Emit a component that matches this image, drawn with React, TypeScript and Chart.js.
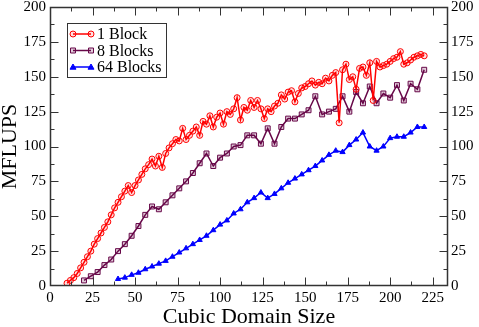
import React, { useEffect, useRef } from "react";
import { Chart, registerables } from "chart.js";

Chart.register(...registerables);

const FONT = "'Liberation Serif', 'Times New Roman', serif";

// ---- data ----
const seriesNames = ["1 Block", "8 Blocks", "64 Blocks"];

const oneBlockX = [
  10, 12, 14, 16, 18, 20, 22, 24, 26, 28, 30, 32, 34, 36, 38, 40, 42, 44, 46, 48,
  50, 52, 54, 56, 58, 60, 62, 64, 66, 68, 70, 72, 74, 76, 78, 80, 82, 84, 86, 88,
  90, 92, 94, 96, 98, 100, 102, 104, 106, 108, 110, 112, 114, 116, 118, 120, 122, 124, 126, 128,
  130, 132, 134, 136, 138, 140, 142, 144, 146, 148, 150, 152, 154, 156, 158, 160, 162, 164, 166, 168,
  170, 172, 174, 176, 178, 180, 182, 184, 186, 188, 190, 192, 194, 196, 198, 200, 202, 204, 206, 208,
  210, 212, 214, 216, 218, 220,
];
const oneBlockY = [
  2, 4, 6, 9, 13, 17, 21, 25, 30, 34, 38, 42, 46, 51, 56, 60, 64, 68, 72, 67,
  72, 76, 80, 84, 87, 91, 86, 93, 85, 95, 99, 102, 105, 104, 113, 105, 108, 111, 114, 108,
  118, 116, 122, 114, 121, 124, 116, 125, 123, 127, 135, 119, 128, 126, 133, 128, 133, 127, 120, 127,
  125, 129, 131, 137, 134, 139, 140, 132, 138, 142, 143, 145, 147, 144, 146, 145, 149, 147, 151, 153,
  117, 155, 159, 148, 150, 141, 156, 157, 151, 160, 133, 161, 157, 158, 159, 161, 163, 164, 168, 159,
  160, 162, 164, 165, 166, 165,
];

const eightBlocksX = [
  20, 24, 28, 32, 36, 40, 44, 48, 52, 56, 60, 64, 68, 72, 76, 80, 84, 88, 92, 96,
  100, 104, 108, 112, 116, 120, 124, 128, 132, 136, 140, 144, 148, 152, 156, 160, 164, 168, 172, 176,
  180, 184, 188, 192, 196, 200, 204, 208, 212, 216, 220,
];
const eightBlocksY = [
  4, 7, 10, 15, 19, 25, 30, 36, 43, 51, 57, 55, 60, 65, 70, 75, 81, 88, 95, 86,
  92, 95, 100, 101, 108, 108, 102, 113, 102, 114, 120, 120, 123, 126, 136, 123, 125, 127, 136, 125,
  139, 131, 143, 131, 138, 135, 144, 133, 145, 141, 155,
];

const sixtyFourBlocksX = [
  40, 44, 48, 52, 56, 60, 64, 68, 72, 76, 80, 84, 88, 92, 96, 100, 104, 108, 112, 116,
  120, 124, 128, 132, 136, 140, 144, 148, 152, 156, 160, 164, 168, 172, 176, 180, 184, 188, 192, 196,
  200, 204, 208, 212, 216, 220,
];
const sixtyFourBlocksY = [
  5, 6, 8, 9.5, 12, 14, 16, 18, 21, 24, 27, 30, 33, 36, 40, 44, 47, 52, 55, 60,
  63, 67, 63, 66, 70, 74, 77, 80, 83, 86, 90, 94, 97, 96, 101, 105, 110, 100, 97, 100,
  106, 107, 107, 110, 114, 114,
];

const X_MIN = 0;
const X_MAX = 234;
const X_STEP = 25;
const Y_MIN = 0;
const Y_MAX = 200;
const Y_STEP = 25;

const RED = "rgb(255,0,0)";
const MAROON = "rgb(103,7,72)";
const BLUE = "rgb(0,0,255)";

function toPoints(xs: number[], ys: number[]) {
  return xs.map((x, i) => ({ x, y: ys[i] }));
}

function drawMarker(ctx: CanvasRenderingContext2D, style: string, x: number, y: number, color: string, fill: string) {
  ctx.save();
  ctx.strokeStyle = color;
  ctx.fillStyle = fill;
  ctx.lineWidth = 1;
  ctx.beginPath();
  if (style === "circle") {
    ctx.arc(x, y, 3, 0, Math.PI * 2);
  } else if (style === "rect") {
    ctx.rect(x - 2.5, y - 2.5, 5, 5);
  } else {
    ctx.moveTo(x, y - 3);
    ctx.lineTo(x + 3, y + 2.2);
    ctx.lineTo(x - 3, y + 2.2);
    ctx.closePath();
  }
  ctx.fill();
  ctx.stroke();
  ctx.restore();
}

const graceAxes = {
  id: "graceAxes",
  afterDatasetsDraw(chart: any) {
    const { ctx, chartArea: a } = chart;
    const xs = chart.scales.x;
    const ys = chart.scales.y;
    const L = Math.round(a.left) + 0.5;
    const R = Math.round(a.right) - 0.5;
    const T = Math.round(a.top) + 0.5;
    const B = Math.round(a.bottom) - 0.5;
    ctx.save();
    ctx.strokeStyle = "#333";
    ctx.lineWidth = 1;
    ctx.beginPath();
    for (let v = X_MIN + X_STEP / 2; v <= X_MAX; v += X_STEP / 2) {
      const px = Math.round(xs.getPixelForValue(v)) + 0.5;
      const len = Math.abs(v % X_STEP) < 1e-6 ? 8 : 4;
      ctx.moveTo(px, B);
      ctx.lineTo(px, B - len);
      ctx.moveTo(px, T);
      ctx.lineTo(px, T + len);
    }
    for (let v = Y_MIN + Y_STEP / 2; v < Y_MAX; v += Y_STEP / 2) {
      const py = Math.round(ys.getPixelForValue(v)) + 0.5;
      const len = Math.abs(v % Y_STEP) < 1e-6 ? 8 : 4;
      ctx.moveTo(L, py);
      ctx.lineTo(L + len, py);
      ctx.moveTo(R, py);
      ctx.lineTo(R - len, py);
    }
    ctx.stroke();
    ctx.lineWidth = 1.5;
    ctx.strokeRect(L, T, R - L, B - T);
    ctx.restore();
  },
};

const graceLegend = {
  id: "graceLegend",
  afterDraw(chart: any) {
    const ctx: CanvasRenderingContext2D = chart.ctx;
    ctx.save();
    ctx.fillStyle = "#fff";
    ctx.strokeStyle = "#333";
    ctx.lineWidth = 1;
    ctx.fillRect(67.5, 23.5, 99, 54);
    ctx.strokeRect(67.5, 23.5, 99, 54);
    chart.data.datasets.forEach((ds: any, i: number) => {
      const y = 34 + i * 16.5;
      ctx.strokeStyle = ds.borderColor;
      ctx.lineWidth = ds.borderWidth;
      ctx.beginPath();
      ctx.moveTo(73, y);
      ctx.lineTo(91, y);
      ctx.stroke();
      drawMarker(ctx, ds.pointStyle, 73, y, ds.borderColor, ds.pointBackgroundColor);
      drawMarker(ctx, ds.pointStyle, 91, y, ds.borderColor, ds.pointBackgroundColor);
      ctx.fillStyle = "#000";
      ctx.font = `16px ${FONT}`;
      ctx.textBaseline = "middle";
      ctx.textAlign = "left";
      ctx.fillText(ds.label, 97, y + 1);
    });
    ctx.restore();
  },
};

export default function App() {
  const ref = useRef<HTMLCanvasElement | null>(null);

  useEffect(() => {
    document.body.style.margin = "0";
    const canvas = ref.current;
    if (!canvas) return;
    const tickFont = { family: FONT, size: 15 };
    const chart = new Chart(canvas, {
      type: "line",
      data: {
        datasets: [
          {
            label: seriesNames[0],
            data: toPoints(oneBlockX, oneBlockY),
            borderColor: RED,
            borderWidth: 1.5,
            pointStyle: "circle",
            pointRadius: 3,
            pointBorderWidth: 1,
            pointBorderColor: RED,
            pointBackgroundColor: "rgba(255,0,0,0.12)",
          },
          {
            label: seriesNames[1],
            data: toPoints(eightBlocksX, eightBlocksY),
            borderColor: MAROON,
            borderWidth: 1.5,
            pointStyle: "rect",
            pointRadius: 3.5,
            pointBorderWidth: 1,
            pointBorderColor: MAROON,
            pointBackgroundColor: "rgba(103,7,72,0.2)",
          },
          {
            label: seriesNames[2],
            data: toPoints(sixtyFourBlocksX, sixtyFourBlocksY),
            borderColor: BLUE,
            borderWidth: 1.5,
            pointStyle: "triangle",
            pointRadius: 3,
            pointBorderWidth: 1,
            pointBorderColor: BLUE,
            pointBackgroundColor: BLUE,
          },
        ] as any,
      },
      options: {
        animation: false,
        responsive: false,
        layout: { padding: { top: 7, left: 0, right: 0, bottom: 0 } },
        plugins: { legend: { display: false }, tooltip: { enabled: false } },
        elements: { line: { tension: 0 } },
        scales: {
          x: {
            type: "linear",
            position: "bottom",
            min: X_MIN,
            max: X_MAX,
            grid: { display: false, drawTicks: false },
            border: { display: false },
            ticks: { stepSize: X_STEP, includeBounds: false, font: tickFont, color: "#000", padding: 3, maxRotation: 0, autoSkip: false },
            title: { display: true, text: "Cubic Domain Size", font: { family: FONT, size: 22, lineHeight: 0.9 }, color: "#000", padding: 0 },
            afterFit(scale: any) {
              scale.height = 41;
              scale.paddingLeft = 0;
              scale.paddingRight = 0;
            },
          },
          y: {
            type: "linear",
            position: "left",
            min: Y_MIN,
            max: Y_MAX,
            grid: { display: false, drawTicks: false },
            border: { display: false },
            ticks: { stepSize: Y_STEP, font: tickFont, color: "#000", padding: 4 },
            title: { display: true, text: "MFLUPS", font: { family: FONT, size: 22, lineHeight: 0.9 }, color: "#000", padding: 0 },
            afterFit(scale: any) {
              scale.width = 50;
              scale.paddingTop = 0;
              scale.paddingBottom = 0;
            },
          },
          y2: {
            type: "linear",
            position: "right",
            min: Y_MIN,
            max: Y_MAX,
            grid: { display: false, drawTicks: false },
            border: { display: false },
            ticks: { stepSize: Y_STEP, font: tickFont, color: "#000", padding: 3 },
            afterFit(scale: any) {
              scale.width = 31;
              scale.paddingTop = 0;
              scale.paddingBottom = 0;
            },
          },
        },
      } as any,
      plugins: [graceAxes, graceLegend],
    });
    return () => chart.destroy();
  }, []);

  return (
    <div style={{ position: "absolute", left: 0, top: 0, width: 479, height: 327, background: "#fff" }}>
      <canvas ref={ref} width={479} height={327} style={{ width: 479, height: 327, display: "block" }} />
    </div>
  );
}
